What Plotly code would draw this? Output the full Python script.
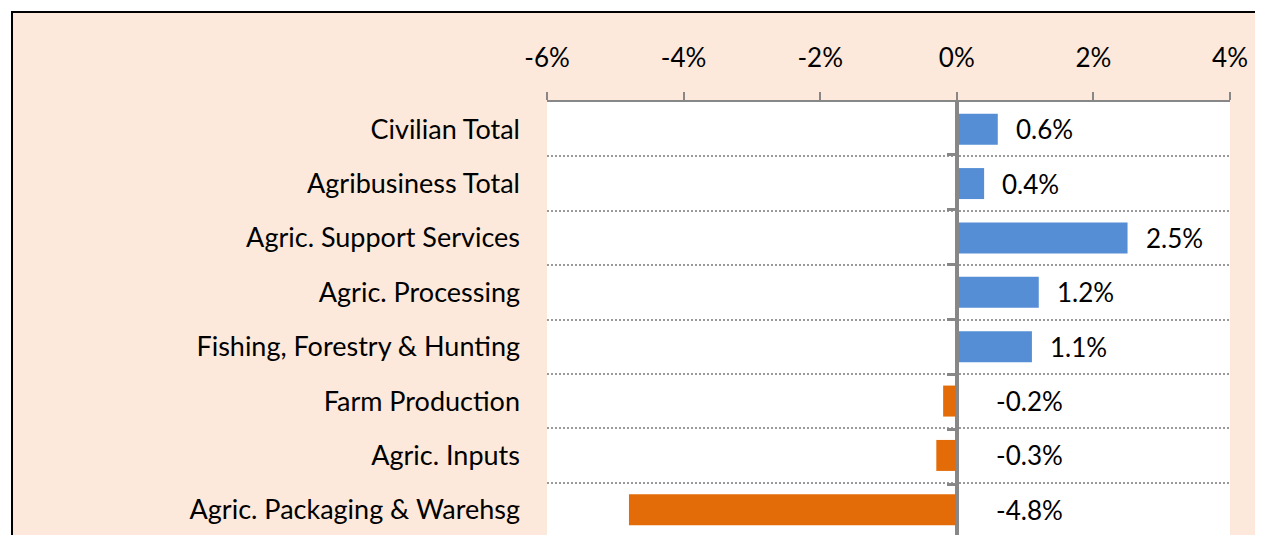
import plotly.graph_objects as go

# data (percent change)
categories = [
    "Civilian Total",
    "Agribusiness Total",
    "Agric. Support Services",
    "Agric. Processing",
    "Fishing, Forestry & Hunting",
    "Farm Production",
    "Agric. Inputs",
    "Agric. Packaging & Warehsg",
]
values = [0.6, 0.4, 2.5, 1.2, 1.1, -0.2, -0.3, -4.8]
x_tickvals = [-6, -4, -2, 0, 2, 4]
x_ticktext = ["-6%", "-4%", "-2%", "0%", "2%", "4%"]

BLUE = "#558ED5"
ORANGE = "#E36C09"
PEACH = "#FDE9DB"
GREY = "#878787"
FONT = "Lato"
FS = 26

colors = [BLUE if v >= 0 else ORANGE for v in values]

fig = go.Figure()

fig.add_trace(go.Bar(
    x=values, y=categories, orientation="h",
    marker=dict(color=colors, line=dict(width=0)),
    showlegend=False, hoverinfo="skip",
))

# invisible trace to carry the axis through zero (tick marks at boundaries)
fig.add_trace(go.Scatter(
    x=[0] * len(categories), y=categories, yaxis="y2",
    mode="markers", marker=dict(opacity=0), showlegend=False, hoverinfo="skip",
))

# data labels
for cat, v in zip(categories, values):
    fig.add_annotation(
        x=max(v, 0), y=cat, text=f"{v:.1f}%",
        showarrow=False, xanchor="left",
        xshift=16 if v >= 0 else 37,
        font=dict(family=FONT, size=FS, color="#000000"),
    )

# frame + plot background
fig.add_shape(type="rect", xref="paper", yref="paper",
              x0=-0.7833, x1=1.2, y0=-0.2, y1=1.2069,
              fillcolor=PEACH, line=dict(color="#000000", width=2), layer="below")
fig.add_shape(type="rect", xref="x domain", yref="y domain",
              x0=0, x1=1, y0=0, y1=1,
              fillcolor="#FFFFFF", line=dict(width=0), layer="below")

fig.update_layout(
    width=1255, height=529,
    margin=dict(l=539, r=33, t=94, b=0),
    paper_bgcolor="#FFFFFF",
    plot_bgcolor="#FFFFFF",
    bargap=0.43,
    font=dict(family=FONT, size=FS, color="#000000"),
    xaxis=dict(
        range=[-6, 4], side="top",
        tickmode="array", tickvals=x_tickvals, ticktext=x_ticktext,
        showline=True, linecolor=GREY, linewidth=2,
        ticks="outside", ticklen=8, tickcolor=GREY, tickwidth=2,
        ticklabelstandoff=15,
        showgrid=False,
        zeroline=True, zerolinecolor=GREY, zerolinewidth=2.5,
        tickfont=dict(family=FONT, size=FS, color="#000000"),
    ),
    yaxis=dict(
        autorange="reversed", categoryorder="array", categoryarray=categories,
        tickson="boundaries", ticks="", showline=False,
        showgrid=True, gridcolor="#9a9a9a", griddash="2px,2px", gridwidth=1.5,
        ticklabelstandoff=26,
        tickfont=dict(family=FONT, size=27, color="#000000"),
    ),
    yaxis2=dict(
        overlaying="y", anchor="free", position=0.6, side="left",
        autorange="reversed", categoryorder="array", categoryarray=categories,
        tickson="boundaries", ticks="outside", ticklen=9,
        tickcolor=GREY, tickwidth=2.5, layer="above traces",
        showticklabels=False, showgrid=False,
        showline=True, linecolor=GREY, linewidth=2.5,
    ),
)

fig.write_html("out.html")
